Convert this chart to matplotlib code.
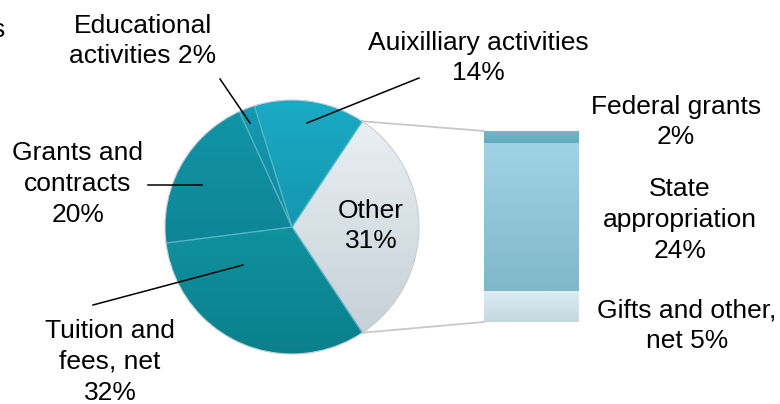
import matplotlib.pyplot as plt
import matplotlib.colors as mcolors
import numpy as np

plt.rcParams['font.family'] = ['Liberation Sans', 'DejaVu Sans']

# revenue shares (%), pie slices in counter-clockwise order starting with "Other"
pie_labels = ['Other', 'Auixilliary activities', 'Educational activities',
              'Grants and contracts', 'Tuition and fees, net']
pie_values = [31, 14, 2, 20, 32]
pie_top = ['#e8f0f4', '#1aaac5', '#1499b2', '#1294a7', '#10919e']
pie_bot = ['#c6d0d7', '#1497af', '#1089a0', '#0d8596', '#0a808c']

# breakdown of "Other", stacked from bottom to top
bar_labels = ['Gifts and other, net', 'State appropriation', 'Federal grants']
bar_values = [5, 24, 2]
bar_top = ['#dcecf2', '#9fd3e5', '#74b9cc']
bar_bot = ['#c4d6de', '#80b7c9', '#64a9bd']


def grad_fill(a, patch, ctop, cbot):
    # vertical gradient clipped to a patch
    x0, y0, x1, y1 = patch.get_window_extent().transformed(a.transData.inverted()).extents
    t = np.linspace(0, 1, 128)[:, None]
    c0 = np.array(mcolors.to_rgb(ctop))
    c1 = np.array(mcolors.to_rgb(cbot))
    img = (c0 * (1 - t) + c1 * t)[:, None, :]
    im = a.imshow(img, extent=(min(x0, x1), max(x0, x1), min(y0, y1), max(y0, y1)),
                  origin='upper', aspect='auto', zorder=patch.get_zorder() + 0.1,
                  interpolation='bilinear')
    im.set_clip_path(patch)


W, H = 780, 404
fig = plt.figure(figsize=(7.8, 4.04), dpi=100)
ax = fig.add_axes([0, 0, 1, 1])

cx, cy, r = 292, H - 227, 127
total = sum(pie_values)
other_deg = pie_values[0] / total * 360
start = -other_deg / 2

wedges, _ = ax.pie(pie_values, colors=pie_bot, startangle=start,
                   center=(cx, cy), radius=r, counterclock=True,
                   wedgeprops=dict(edgecolor='none', linewidth=0))
ax.set_aspect('equal')
ax.set_xlim(0, W)
ax.set_ylim(0, H)
ax.axis('off')
fig.canvas.draw()
for w, ct, cb in zip(wedges, pie_top, pie_bot):
    grad_fill(ax, w, ct, cb)
# thin light separators between the slices
for w in wedges:
    for ang in (w.theta1, w.theta2):
        ax.plot([cx, cx + r * np.cos(np.radians(ang))], [cy, cy + r * np.sin(np.radians(ang))],
                color='#5cb8c8', lw=0.9, alpha=0.7, zorder=3)
circ = plt.Circle((cx, cy), r, fill=False, ec='#c9d1d6', lw=0.8, zorder=3)
ax.add_patch(circ)
ax.set_xlim(0, W)
ax.set_ylim(0, H)

# stacked bar for "Other"
bx0, bx1, by0, by1 = 484, 579, H - 322, H - 131
bax = fig.add_axes([bx0 / W, by0 / H, (bx1 - bx0) / W, (by1 - by0) / H])
bax.set_xlim(-0.5, 0.5)
bax.set_ylim(0, sum(bar_values))
bax.axis('off')
bars = bax.bar([0] * len(bar_values), bar_values, bottom=np.cumsum([0] + bar_values[:-1]),
               width=1, color=bar_bot, edgecolor='none')
fig.canvas.draw()
for b, ct, cb in zip(bars, bar_top, bar_bot):
    grad_fill(bax, b, ct, cb)
bax.set_xlim(-0.5, 0.5)
bax.set_ylim(0, sum(bar_values))

# connector lines from the Other slice to the bar
for ang, by in [(other_deg / 2, by1), (-other_deg / 2, by0)]:
    px = cx + r * np.cos(np.radians(ang))
    py = cy + r * np.sin(np.radians(ang))
    ax.plot([px, bx0], [py, by], color='#c8c8c8', lw=1.3, zorder=0)

fs = 19
def label(x, y, s):
    ax.text(x, H - y, s, fontsize=fs, ha='center', va='center', linespacing=1.35, zorder=5)

label(371, 226, 'Other\n31%')
label(143, 41, 'Educational\nactivities 2%')
label(478, 58, 'Auixilliary activities\n14%')
label(78, 184, 'Grants and\ncontracts\n20%')
label(110, 362, 'Tuition and\nfees, net\n32%')
label(676, 122, 'Federal grants\n2%')
label(680, 220, 'State\nappropriation\n24%')
label(687, 326, 'Gifts and other,\nnet 5%')
ax.text(5, H - 30, 's', fontsize=fs, ha='right', va='center')

# leader lines
leaders = [((220, 79), (250, 123)),
           ((419, 78), (307, 123)),
           ((148, 185), (202, 185)),
           ((93, 305), (243, 265))]
for (x0, y0), (x1, y1) in leaders:
    ax.plot([x0, x1], [H - y0, H - y1], color='black', lw=1.1, zorder=6)

fig.savefig('out.png', dpi=100)
